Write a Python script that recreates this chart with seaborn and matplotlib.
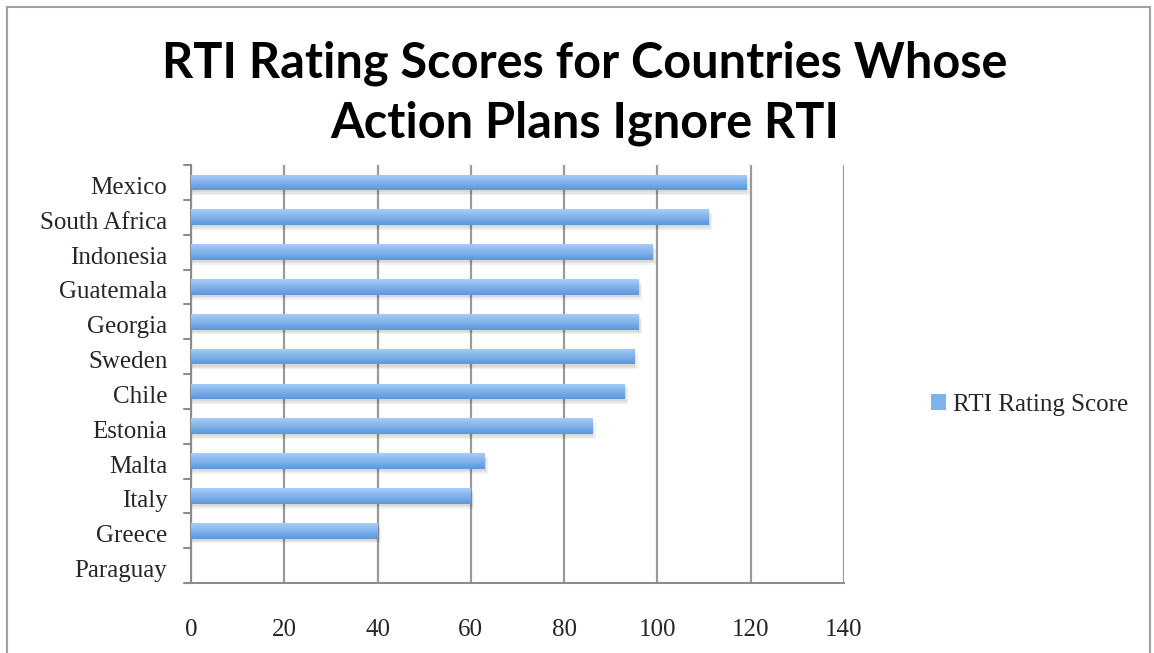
import matplotlib
matplotlib.use("Agg")
import matplotlib.pyplot as plt
import seaborn as sns
import numpy as np
import pandas as pd
from matplotlib.patches import Rectangle, Patch
from matplotlib.colors import LinearSegmentedColormap
import matplotlib.transforms as mtransforms

countries = ["Mexico", "South Africa", "Indonesia", "Guatemala", "Georgia", "Sweden",
             "Chile", "Estonia", "Malta", "Italy", "Greece", "Paraguay"]
scores = [119, 111, 99, 96, 96, 95, 93, 86, 63, 60, 40, 0]
xticks = [0, 20, 40, 60, 80, 100, 120, 140]
series_name = "RTI Rating Score"
title = "RTI Rating Scores for Countries Whose\nAction Plans Ignore RTI"

df = pd.DataFrame({"Country": countries, "Score": scores})

sns.set_style("white")
serif = ["Liberation Serif", "DejaVu Serif"]

fig = plt.figure(figsize=(11.54, 6.53), dpi=100)
ax = fig.add_axes([191/1154, 1 - 583/653, (844-191)/1154, (583-165)/653])

sns.barplot(data=df, x="Score", y="Country", orient="h", width=0.45,
            color="#7eb1ee", ax=ax, zorder=3, linewidth=0, edgecolor="none")

cmap = LinearSegmentedColormap.from_list("g", ["#a8cdf8", "#5b97dc"])
grad = np.linspace(0, 1, 64).reshape(-1, 1)
for p in list(ax.patches):
    x0, y0 = p.get_x(), p.get_y()
    w, h = p.get_width(), p.get_height()
    if w <= 0:
        p.set_visible(False)
        continue
    for k, a in enumerate([0.05, 0.05, 0.05]):
        off = 0.06 + 0.04 * k
        sh = Rectangle((x0, y0 + off), w + 0.25 + 0.25 * k, h, facecolor="#000000", alpha=a,
                       edgecolor="none", zorder=2)
        ax.add_patch(sh)
    im = ax.imshow(grad, extent=(x0, x0 + w, y0 + h, y0), cmap=cmap, aspect="auto",
                   zorder=4, interpolation="bilinear")
    im.set_clip_path(p)

ax.set_xlim(0, 140)
ax.set_ylim(len(countries) - 0.5, -0.5)
ax.set_xticks(xticks)
ax.set_xticklabels([str(v) for v in xticks], fontsize=18, family=serif)
ax.set_yticks(range(len(countries)))
ax.set_yticklabels(countries, fontsize=18, family=serif)
ax.tick_params(axis="y", length=0, pad=17)
ax.tick_params(axis="x", length=6, color="#8c8c8c", width=1.5, pad=20, direction="out")
off = mtransforms.ScaledTranslation(0, -3/100, fig.dpi_scale_trans)
for lab in ax.get_yticklabels():
    lab.set_transform(lab.get_transform() + off)
for b in np.arange(-0.5, len(countries), 1.0):
    ax.plot([-1.6, 0], [b, b], color="#8c8c8c", lw=1.5, clip_on=False, zorder=5)
ax.set_xlabel("")
ax.set_ylabel("")
ax.grid(axis="x", color="#9a9a9a", lw=1.6, zorder=0)
for s in ["top", "right"]:
    ax.spines[s].set_visible(False)
for s in ["left", "bottom"]:
    ax.spines[s].set_color("#8c8c8c")
    ax.spines[s].set_linewidth(1.5)
ax.set_axisbelow(True)

fig.text(585/1154, 1 - 93/653, title, ha="center", va="center", fontsize=35,
         fontweight="bold", family=["Lato", "DejaVu Sans"], linespacing=1.4, color="black")

handle = Patch(facecolor="#7eb1ee", edgecolor="none")
fig.legend([handle], [series_name], loc="center left", bbox_to_anchor=(908/1154, 1 - 405/653),
           frameon=False, prop={"family": serif, "size": 18}, handlelength=0.6,
           handleheight=0.6, handletextpad=0.3)

border = Rectangle((7/1154, -0.01), (1150-7)/1154, 1 - 7/653 + 0.01, transform=fig.transFigure,
                   fill=False, edgecolor="#a0a0a0", lw=1.5)
fig.add_artist(border)

fig.savefig("out.png", dpi=100)
